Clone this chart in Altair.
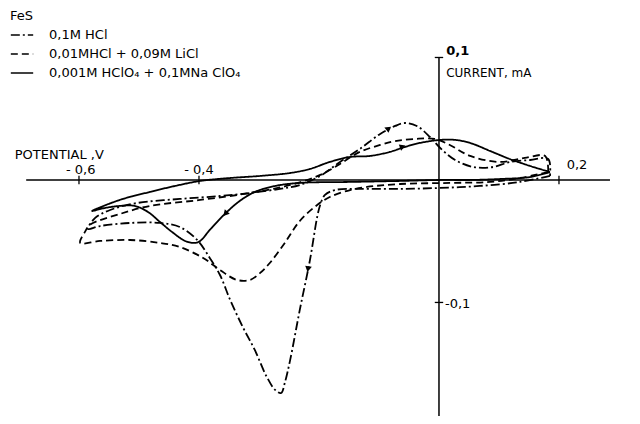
import altair as alt
import pandas as pd

FONT = "DejaVu Sans"

series_names = ["0,1M HCl", "0,01MHCl + 0,09M LiCl", "0,001M HClO₄ + 0,1MNa ClO₄"]
series_dash = [[9, 3, 2, 3], [7, 4], [1, 0]]

# 0,1M HCl (dash-dot) : cathodic sweep from +0.185 V, then anodic return
hcl_v = [0.185, 0.135, 0.068, 0.002, -0.065, -0.132, -0.173, -0.190, -0.198, -0.203,
         -0.215, -0.232, -0.248, -0.257, -0.263, -0.273, -0.287, -0.307, -0.327, -0.348,
         -0.365, -0.382, -0.403, -0.432, -0.465, -0.515, -0.565, -0.585,
         -0.573, -0.548, -0.503, -0.432, -0.365, -0.315, -0.265, -0.232, -0.198, -0.165,
         -0.132, -0.098, -0.073, -0.057, -0.037, -0.015, 0.002, 0.027, 0.057, 0.090,
         0.118, 0.152, 0.182, 0.185]
hcl_i = [0.0033, -0.0016, -0.0049, -0.0065, -0.0073, -0.0073, -0.0082, -0.0122, -0.0204, -0.0302,
         -0.0653, -0.1061, -0.1469, -0.1657, -0.1739, -0.1714, -0.1608, -0.1388, -0.1200, -0.0980,
         -0.0776, -0.0637, -0.0490, -0.0384, -0.0351, -0.0351, -0.0376, -0.0400,
         -0.0310, -0.0245, -0.0188, -0.0155, -0.0131, -0.0106, -0.0073, -0.0041, 0.0033, 0.0147,
         0.0253, 0.0376, 0.0441, 0.0465, 0.0441, 0.0351, 0.0261, 0.0163, 0.0106, 0.0106,
         0.0147, 0.0163, 0.0171, 0.0033]

# 0,01M HCl + 0,09M LiCl (dashed)
licl_v = [0.182, 0.135, 0.085, 0.018, -0.065, -0.120, -0.148, -0.182, -0.203, -0.232,
          -0.257, -0.282, -0.298, -0.315, -0.337, -0.365, -0.393, -0.432, -0.465, -0.515,
          -0.565, -0.598,
          -0.590, -0.582, -0.532, -0.482, -0.398, -0.315, -0.248, -0.198, -0.165, -0.132,
          -0.098, -0.073, -0.040, -0.007, 0.018, 0.052, 0.102, 0.143, 0.177, 0.182]
licl_i = [0.0065, 0.0016, -0.0016, -0.0024, -0.0033, -0.0057, -0.0082, -0.0139, -0.0204, -0.0335,
          -0.0514, -0.0678, -0.0759, -0.0816, -0.0816, -0.0735, -0.0637, -0.0547, -0.0514, -0.0490,
          -0.0498, -0.0514,
          -0.0424, -0.0367, -0.0278, -0.0212, -0.0163, -0.0106, -0.0041, 0.0041, 0.0131, 0.0229,
          0.0286, 0.0318, 0.0335, 0.0335, 0.0286, 0.0196, 0.0147, 0.0180, 0.0196, 0.0065]

# 0,001M HClO4 + 0,1M NaClO4 (solid)
clo4_v = [0.185, 0.152, 0.102, 0.052, 0.002, -0.065, -0.148, -0.232, -0.273, -0.307,
          -0.332, -0.357, -0.382, -0.398, -0.407, -0.423, -0.445, -0.465, -0.485, -0.507,
          -0.532, -0.557, -0.578,
          -0.532, -0.482, -0.440, -0.398, -0.348, -0.298, -0.248, -0.215, -0.182, -0.148,
          -0.115, -0.082, -0.057, -0.032, 0.002, 0.027, 0.052, 0.085, 0.118, 0.152, 0.185]
clo4_i = [0.0065, 0.0024, 0.0008, 0.0, 0.0, -0.0008, -0.0016, -0.0024, -0.0049, -0.0098,
          -0.0171, -0.0278, -0.0408, -0.0498, -0.0514, -0.0498, -0.0424, -0.0343, -0.0261, -0.0212,
          -0.0212, -0.0229, -0.0253,
          -0.0163, -0.0098, -0.0049, -0.0008, 0.0016, 0.0033, 0.0057, 0.0090, 0.0147, 0.0188,
          0.0196, 0.0229, 0.0269, 0.0302, 0.0327, 0.0327, 0.0302, 0.0237, 0.0171, 0.0114, 0.0065]

# sweep-direction arrowheads
arrow_v = [-0.218, -0.355, -0.085, -0.062]
arrow_i = [-0.072, -0.027, 0.0416, 0.027]
arrow_angle = [190, 222, 52, 70]

# axis ticks / labels
xtick_v = [-0.6, -0.4, 0.2]
ytick_i = [0.1, -0.1]
xlab_text = ["- 0,6", "- 0,4", "0,2"]
xlab_v = [-0.597, -0.4, 0.23]
xlab_i = [0.0085, 0.0085, 0.012]

X_DOM = [-0.7183, 0.3217]
Y_DOM = [-0.1927, 0.1404]
xs = alt.Scale(domain=X_DOM, nice=False, zero=False)
ys = alt.Scale(domain=Y_DOM, nice=False, zero=False)

rows = []
for name, vv, ii in zip(series_names, [hcl_v, licl_v, clo4_v], [hcl_i, licl_i, clo4_i]):
    for k, (v, i) in enumerate(zip(vv, ii)):
        rows.append({"series": name, "V": v, "I": i, "k": k})
curves = pd.DataFrame(rows)

lines = alt.Chart(curves).mark_line(
    color="black", strokeWidth=1.8, interpolate="catmull-rom"
).encode(
    x=alt.X("V:Q", scale=xs, axis=None),
    y=alt.Y("I:Q", scale=ys, axis=None),
    order="k:Q",
    strokeDash=alt.StrokeDash(
        "series:N",
        scale=alt.Scale(domain=series_names, range=series_dash),
        legend=alt.Legend(
            title="FeS", orient="none", legendX=2, legendY=2,
            symbolType="stroke", symbolSize=500, symbolStrokeColor="black",
            symbolStrokeWidth=1.5, labelFont=FONT, labelFontSize=13,
            titleFont=FONT, titleFontSize=13, titleFontWeight="normal",
            labelLimit=400, rowPadding=-1, titlePadding=0, labelOffset=15,
            labelColor="black", titleColor="black",
        ),
    ),
)

xaxis = alt.Chart(pd.DataFrame({"a": [-0.688], "b": [0.285], "y": [0.0]})).mark_rule(
    color="black", strokeWidth=1.5
).encode(x=alt.X("a:Q", scale=xs, axis=None), x2="b:Q", y=alt.Y("y:Q", scale=ys, axis=None))

yaxis = alt.Chart(pd.DataFrame({"x": [0.0], "a": [0.1], "b": [-0.1927]})).mark_rule(
    color="black", strokeWidth=1.5
).encode(x=alt.X("x:Q", scale=xs, axis=None), y=alt.Y("a:Q", scale=ys, axis=None), y2="b:Q")

xt = pd.DataFrame({"v": xtick_v, "lo": [-0.0035] * len(xtick_v), "hi": [0.0035] * len(xtick_v)})
xticks = alt.Chart(xt).mark_rule(color="black", strokeWidth=1.3).encode(
    x=alt.X("v:Q", scale=xs, axis=None), y=alt.Y("hi:Q", scale=ys, axis=None), y2="lo:Q"
)
yt = pd.DataFrame({"i": ytick_i, "lo": [-0.007] * len(ytick_i), "hi": [0.007] * len(ytick_i)})
yticks = alt.Chart(yt).mark_rule(color="black", strokeWidth=1.3).encode(
    y=alt.Y("i:Q", scale=ys, axis=None), x=alt.X("lo:Q", scale=xs, axis=None), x2="hi:Q"
)

xl = pd.DataFrame({"t": xlab_text, "v": xlab_v, "i": xlab_i})
xlabels = alt.Chart(xl).mark_text(font=FONT, fontSize=13, color="black", baseline="middle").encode(
    x=alt.X("v:Q", scale=xs, axis=None), y=alt.Y("i:Q", scale=ys, axis=None), text="t:N"
)

ann = pd.DataFrame({
    "t": ["CURRENT, mA", "-0,1", "POTENTIAL ,V"],
    "v": [0.012, 0.010, -0.707],
    "i": [0.087, -0.1015, 0.0205],
    "s": [12, 13, 13],
})
annot = alt.Chart(ann).mark_text(font=FONT, color="black", align="left", baseline="middle").encode(
    x=alt.X("v:Q", scale=xs, axis=None), y=alt.Y("i:Q", scale=ys, axis=None), text="t:N",
    size=alt.Size("s:Q", scale=None, legend=None)
)
top = alt.Chart(pd.DataFrame({"t": ["0,1"], "v": [0.012], "i": [0.105]})).mark_text(
    font=FONT, fontSize=13, fontWeight="bold", color="black", align="left", baseline="middle"
).encode(x=alt.X("v:Q", scale=xs, axis=None), y=alt.Y("i:Q", scale=ys, axis=None), text="t:N")

arr = pd.DataFrame({"v": arrow_v, "i": arrow_i, "a": arrow_angle})
arrows = alt.Chart(arr).mark_point(shape="triangle", filled=True, color="black", size=45, opacity=1).encode(
    x=alt.X("v:Q", scale=xs, axis=None), y=alt.Y("i:Q", scale=ys, axis=None),
    angle=alt.Angle("a:Q", scale=None)
)

chart = alt.layer(xaxis, yaxis, xticks, yticks, lines, arrows, xlabels, annot, top).properties(
    width=624, height=408, padding=0, autosize=alt.AutoSizeParams(type="none")
).configure_view(stroke=None)

chart.save("out.html", embed_options={"renderer": "svg", "actions": False})
